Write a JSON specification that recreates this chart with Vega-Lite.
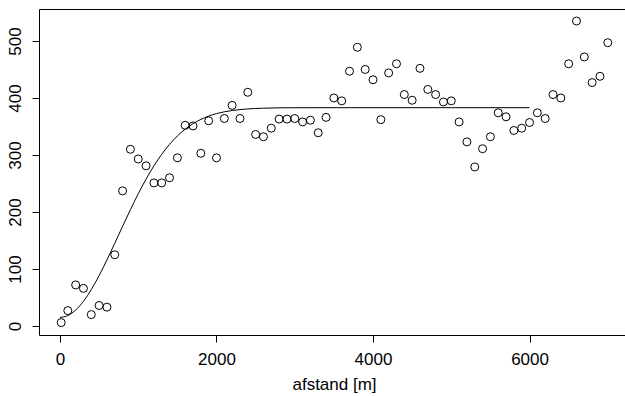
{
  "$schema": "https://vega.github.io/schema/vega-lite/v6.json",
  "width": 590,
  "height": 326,
  "autosize": {"type": "none"},
  "padding": {"left": 39, "top": 9, "right": 0, "bottom": 61},
  "background": "white",
  "config": {
    "view": {"stroke": "black", "strokeWidth": 1},
    "axis": {
      "domain": false,
      "grid": false,
      "ticks": true,
      "tickColor": "black",
      "tickSize": 7,
      "tickWidth": 1,
      "labelColor": "black",
      "labelFont": "Liberation Sans",
      "labelFontSize": 17,
      "titleFont": "Liberation Sans",
      "titleFontSize": 17,
      "titleFontWeight": "normal",
      "titleColor": "black"
    }
  },
  "datasets": {
    "points": [
      {"afstand": 15, "gamma": 6},
      {"afstand": 100, "gamma": 27},
      {"afstand": 200, "gamma": 72},
      {"afstand": 300, "gamma": 66},
      {"afstand": 400, "gamma": 20},
      {"afstand": 500, "gamma": 36},
      {"afstand": 600, "gamma": 33},
      {"afstand": 700, "gamma": 125},
      {"afstand": 800, "gamma": 237},
      {"afstand": 900, "gamma": 310},
      {"afstand": 1000, "gamma": 293},
      {"afstand": 1100, "gamma": 281},
      {"afstand": 1200, "gamma": 251},
      {"afstand": 1300, "gamma": 251},
      {"afstand": 1400, "gamma": 260},
      {"afstand": 1500, "gamma": 295},
      {"afstand": 1600, "gamma": 352},
      {"afstand": 1700, "gamma": 351},
      {"afstand": 1800, "gamma": 303},
      {"afstand": 1900, "gamma": 360},
      {"afstand": 2000, "gamma": 295},
      {"afstand": 2100, "gamma": 364},
      {"afstand": 2200, "gamma": 387},
      {"afstand": 2300, "gamma": 364},
      {"afstand": 2400, "gamma": 410},
      {"afstand": 2500, "gamma": 336},
      {"afstand": 2600, "gamma": 332},
      {"afstand": 2700, "gamma": 347},
      {"afstand": 2800, "gamma": 363},
      {"afstand": 2900, "gamma": 363},
      {"afstand": 3000, "gamma": 364},
      {"afstand": 3100, "gamma": 358},
      {"afstand": 3200, "gamma": 361},
      {"afstand": 3300, "gamma": 339},
      {"afstand": 3400, "gamma": 366},
      {"afstand": 3500, "gamma": 400},
      {"afstand": 3600, "gamma": 395},
      {"afstand": 3700, "gamma": 447},
      {"afstand": 3800, "gamma": 489},
      {"afstand": 3900, "gamma": 450},
      {"afstand": 4000, "gamma": 432},
      {"afstand": 4100, "gamma": 362},
      {"afstand": 4200, "gamma": 444},
      {"afstand": 4300, "gamma": 460},
      {"afstand": 4400, "gamma": 406},
      {"afstand": 4500, "gamma": 396},
      {"afstand": 4600, "gamma": 452},
      {"afstand": 4700, "gamma": 415},
      {"afstand": 4800, "gamma": 406},
      {"afstand": 4900, "gamma": 393},
      {"afstand": 5000, "gamma": 395},
      {"afstand": 5100, "gamma": 358},
      {"afstand": 5200, "gamma": 323},
      {"afstand": 5300, "gamma": 279},
      {"afstand": 5400, "gamma": 311},
      {"afstand": 5500, "gamma": 332},
      {"afstand": 5600, "gamma": 374},
      {"afstand": 5700, "gamma": 367},
      {"afstand": 5800, "gamma": 343},
      {"afstand": 5900, "gamma": 347},
      {"afstand": 6000, "gamma": 357},
      {"afstand": 6100, "gamma": 374},
      {"afstand": 6200, "gamma": 364},
      {"afstand": 6300, "gamma": 406},
      {"afstand": 6400, "gamma": 400},
      {"afstand": 6500, "gamma": 460},
      {"afstand": 6600, "gamma": 535},
      {"afstand": 6700, "gamma": 472},
      {"afstand": 6800, "gamma": 427},
      {"afstand": 6900, "gamma": 438},
      {"afstand": 7000, "gamma": 497}
    ],
    "model": [
      {"afstand": 0, "gamma": 15},
      {"afstand": 100, "gamma": 18.3},
      {"afstand": 200, "gamma": 27.9},
      {"afstand": 300, "gamma": 43.3},
      {"afstand": 400, "gamma": 63.8},
      {"afstand": 500, "gamma": 88.4},
      {"afstand": 600, "gamma": 115.9},
      {"afstand": 700, "gamma": 145.1},
      {"afstand": 800, "gamma": 174.8},
      {"afstand": 900, "gamma": 204},
      {"afstand": 1000, "gamma": 231.9},
      {"afstand": 1100, "gamma": 257.7},
      {"afstand": 1200, "gamma": 280.8},
      {"afstand": 1300, "gamma": 301.2},
      {"afstand": 1400, "gamma": 318.7},
      {"afstand": 1500, "gamma": 333.3},
      {"afstand": 1600, "gamma": 345.3},
      {"afstand": 1700, "gamma": 354.9},
      {"afstand": 1800, "gamma": 362.4},
      {"afstand": 1900, "gamma": 368.2},
      {"afstand": 2000, "gamma": 372.6},
      {"afstand": 2200, "gamma": 378},
      {"afstand": 2400, "gamma": 380.8},
      {"afstand": 2600, "gamma": 382.1},
      {"afstand": 2800, "gamma": 382.7},
      {"afstand": 3000, "gamma": 382.9},
      {"afstand": 4000, "gamma": 383},
      {"afstand": 5000, "gamma": 383},
      {"afstand": 6000, "gamma": 383}
    ]
  },
  "layer": [
    {
      "data": {"name": "model"},
      "mark": {"type": "line", "color": "black", "strokeWidth": 1, "interpolate": "monotone"},
      "encoding": {
        "x": {"field": "afstand", "type": "quantitative"},
        "y": {"field": "gamma", "type": "quantitative"}
      }
    },
    {
      "data": {"name": "points"},
      "mark": {"type": "point", "shape": "circle", "filled": false, "stroke": "black", "strokeWidth": 1, "size": 64, "opacity": 1},
      "encoding": {
        "x": {
          "field": "afstand",
          "type": "quantitative",
          "scale": {"domain": [-268, 7271], "nice": false, "zero": false},
          "axis": {
            "values": [0, 2000, 4000, 6000],
            "format": "d",
            "title": "afstand [m]",
            "labelPadding": 9,
            "titleY": 54,
            "titleBaseline": "alphabetic",
            "labelFlush": false
          }
        },
        "y": {
          "field": "gamma",
          "type": "quantitative",
          "scale": {"domain": [-15.8, 556.1], "nice": false, "zero": false},
          "axis": {
            "values": [0, 100, 200, 300, 400, 500],
            "format": "d",
            "title": null,
            "labelAngle": 270,
            "labelAlign": "center",
            "labelBaseline": "alphabetic",
            "labelPadding": 12,
            "labelFlush": false
          }
        }
      }
    }
  ]
}
